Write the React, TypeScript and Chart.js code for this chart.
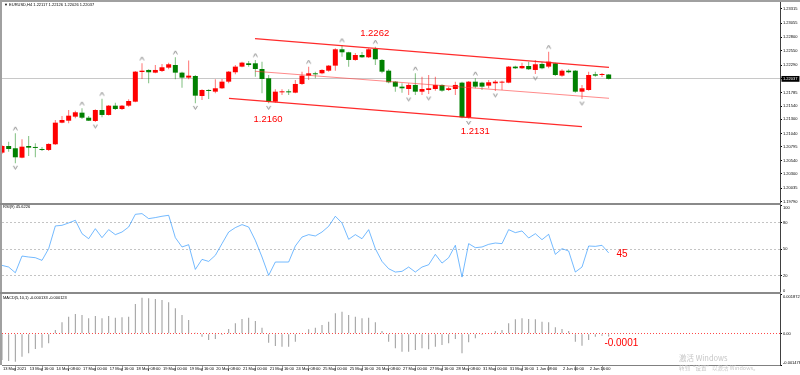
import React, { useEffect, useRef } from 'react';
import { Chart, registerables } from 'chart.js';

Chart.register(...registerables);

const FONT = "'Liberation Sans', Arial, sans-serif";

// ---- H4 EURUSD bars (13 May 2021 00:00 ... 3 Jun 2021 04:00) ----
const OPEN = [
  1.20688, 1.20810, 1.20768, 1.20596, 1.20810, 1.20786, 1.20755, 1.20737, 1.20841, 1.21236,
  1.21272, 1.21346, 1.21419, 1.21327, 1.21267, 1.21468, 1.21377, 1.21547, 1.21486, 1.21547,
  1.21620, 1.22163, 1.22200, 1.22151, 1.22182, 1.22242, 1.22291, 1.22151, 1.22060, 1.22090,
  1.21724, 1.21834, 1.21803, 1.21865, 1.21986, 1.22158, 1.22261, 1.22322, 1.22322, 1.22218,
  1.22048, 1.21620, 1.21791, 1.21803, 1.21785, 1.21944, 1.22096, 1.22139, 1.22139, 1.22187,
  1.22279, 1.22578, 1.22523, 1.22383, 1.22474, 1.22432, 1.22584, 1.22383, 1.22187, 1.21986,
  1.21895, 1.21852, 1.21926, 1.21803, 1.21834, 1.21852, 1.21926, 1.21834, 1.21852, 1.21968,
  1.21334, 1.21986, 1.21968, 1.21913, 1.21956, 1.21968, 1.21968, 1.22261, 1.22231, 1.22273,
  1.22200, 1.22310, 1.22261, 1.22322, 1.22096, 1.22187, 1.22187, 1.21803, 1.21834, 1.22121,
  1.22108, 1.22117,
];
const HIGH = [
  1.20829, 1.20888, 1.21042, 1.20932, 1.20993, 1.20859, 1.20792, 1.20859, 1.21285, 1.21358,
  1.21468, 1.21456, 1.21499, 1.21358, 1.21481, 1.21675, 1.21560, 1.21602, 1.21560, 1.21664,
  1.22182, 1.22322, 1.22213, 1.22291, 1.22310, 1.22334, 1.22432, 1.22169, 1.22371, 1.22108,
  1.21847, 1.21847, 1.22029, 1.22035, 1.22182, 1.22291, 1.22352, 1.22364, 1.22383, 1.22352,
  1.22108, 1.21847, 1.21847, 1.21847, 1.22017, 1.22169, 1.22261, 1.22169, 1.22213, 1.22291,
  1.22596, 1.22657, 1.22534, 1.22511, 1.22529, 1.22596, 1.22626, 1.22401, 1.22213, 1.21999,
  1.21956, 1.21956, 1.22139, 1.22078, 1.22108, 1.22078, 1.21938, 1.21895, 1.21986, 1.21986,
  1.21999, 1.22048, 1.21986, 1.22017, 1.22017, 1.22005, 1.22273, 1.22279, 1.22334, 1.22352,
  1.22383, 1.22352, 1.22534, 1.22334, 1.22213, 1.22213, 1.22200, 1.21926, 1.22169, 1.22169,
  1.22145, 1.22126,
];
const LOW = [
  1.20664, 1.20706, 1.20494, 1.20585, 1.20627, 1.20603, 1.20719, 1.20719, 1.20829, 1.21224,
  1.21224, 1.21316, 1.21303, 1.21267, 1.21248, 1.21334, 1.21367, 1.21468, 1.21468, 1.21529,
  1.21609, 1.22035, 1.21956, 1.22139, 1.22163, 1.22213, 1.22029, 1.21876, 1.22029, 1.21590,
  1.21651, 1.21669, 1.21774, 1.21852, 1.21956, 1.22121, 1.22249, 1.22261, 1.22078, 1.21774,
  1.21590, 1.21602, 1.21743, 1.21743, 1.21774, 1.21926, 1.22017, 1.22048, 1.22121, 1.22169,
  1.22187, 1.22443, 1.22261, 1.22370, 1.22419, 1.22419, 1.22291, 1.22139, 1.21956, 1.21803,
  1.21785, 1.21743, 1.21743, 1.21743, 1.21761, 1.21822, 1.21803, 1.21816, 1.21743, 1.21316,
  1.21313, 1.21865, 1.21834, 1.21865, 1.21816, 1.21834, 1.21956, 1.22218, 1.22218, 1.22200,
  1.22127, 1.22213, 1.22231, 1.22090, 1.22078, 1.22139, 1.21785, 1.21669, 1.21822, 1.22078,
  1.22072, 1.22026,
];
const CLOSE = [
  1.20810, 1.20755, 1.20603, 1.20797, 1.20779, 1.20774, 1.20737, 1.20847, 1.21236, 1.21285,
  1.21364, 1.21426, 1.21327, 1.21272, 1.21468, 1.21377, 1.21547, 1.21486, 1.21547, 1.21633,
  1.22169, 1.22187, 1.22158, 1.22200, 1.22249, 1.22304, 1.22151, 1.22060, 1.22096, 1.21730,
  1.21834, 1.21816, 1.21865, 1.21986, 1.22169, 1.22261, 1.22334, 1.22291, 1.22218, 1.22035,
  1.21620, 1.21803, 1.21803, 1.21791, 1.21944, 1.22096, 1.22139, 1.22121, 1.22200, 1.22279,
  1.22578, 1.22523, 1.22383, 1.22474, 1.22432, 1.22578, 1.22395, 1.22169, 1.21975, 1.21895,
  1.21865, 1.21926, 1.21803, 1.21852, 1.21865, 1.21926, 1.21822, 1.21865, 1.21926, 1.21334,
  1.21986, 1.21895, 1.21895, 1.21975, 1.21986, 1.21986, 1.22261, 1.22231, 1.22273, 1.22213,
  1.22304, 1.22231, 1.22352, 1.22108, 1.22187, 1.22158, 1.21803, 1.21865, 1.22108, 1.22096,
  1.22121, 1.22037,
];

const RSI = [
  31.4, 29.5, 23.0, 42.0, 40.9, 40.1, 37.1, 50.4, 76.2, 76.9,
  79.6, 82.6, 67.4, 61.7, 73.1, 62.9, 72.0, 66.3, 69.3, 75.0,
  89.4, 90.2, 84.5, 85.7, 87.2, 88.3, 62.9, 52.3, 54.9, 26.8,
  38.2, 35.9, 42.8, 56.1, 69.3, 74.3, 77.7, 75.0, 59.8, 40.9,
  20.0, 35.2, 35.2, 35.2, 53.4, 63.6, 66.3, 64.8, 69.3, 75.8,
  87.2, 79.6, 61.0, 66.3, 61.7, 72.0, 50.4, 35.9, 27.6, 23.8,
  24.6, 29.5, 23.8, 29.5, 32.1, 43.9, 34.0, 40.1, 54.2, 18.1,
  56.1, 51.5, 52.3, 55.3, 56.8, 56.1, 72.0, 68.6, 70.5, 62.5,
  67.4, 60.6, 66.7, 43.9, 50.4, 47.7, 23.8, 29.5, 53.4, 53.0,
  54.2, 45.6,
];

const MACD = [
  -0.001242, -0.001289, -0.001320, -0.001085, -0.000927, -0.000723, -0.000660, -0.000456, 0.000173, 0.000534,
  0.000802, 0.000927, 0.000880, 0.000723, 0.000833, 0.000723, 0.000833, 0.000755, 0.000770, 0.000802,
  0.001399, 0.001698, 0.001666, 0.001635, 0.001588, 0.001478, 0.001195, 0.000880, 0.000645, 0.000047,
  -0.000141, -0.000299, -0.000252, -0.000063, 0.000220, 0.000487, 0.000692, 0.000755, 0.000597, 0.000283,
  -0.000424, -0.000582, -0.000613, -0.000613, -0.000377, -0.000031, 0.000204, 0.000283, 0.000409, 0.000566,
  0.000959, 0.001038, 0.000880, 0.000802, 0.000723, 0.000755, 0.000534, 0.000126, -0.000377, -0.000692,
  -0.000849, -0.000849, -0.000770, -0.000692, -0.000739, -0.000613, -0.000534, -0.000456, -0.000252, -0.000927,
  -0.000409, -0.000220, -0.000063, -0.000031, 0.000126, 0.000173, 0.000487, 0.000676, 0.000723, 0.000692,
  0.000676, 0.000566, 0.000534, 0.000299, 0.000220, 0.000126, -0.000377, -0.000566, -0.000299, -0.000141,
  -0.000094, -0.000133,
];

const FRACTAL_UP = [2, 12, 15, 21, 26, 38, 46, 51, 56, 62, 71, 82];
const FRACTAL_DOWN = [2, 14, 29, 40, 61, 64, 70, 74, 80, 87];

const CHANNEL_UPPER_X = [37.95, 91.05];
const CHANNEL_UPPER_Y = [1.22774, 1.22247];
const CHANNEL_MID_X = [37.95, 91.05];
const CHANNEL_MID_Y = [1.22176, 1.21682];
const CHANNEL_LOW_X = [34.05, 87.0];
const CHANNEL_LOW_Y = [1.21682, 1.21163];

const PRICE_NOTES = ['1.2262', '1.2160', '1.2131'];
const PRICE_NOTE_X = [55.9, 39.9, 71.0];
const PRICE_NOTE_Y = [1.22876, 1.21304, 1.2108];
const RSI_NOTES = ['45'];
const RSI_NOTE_X = [93.0];
const RSI_NOTE_Y = [44.5];
const MACD_NOTES = ['-0.0001'];
const MACD_NOTE_X = [92.9];
const MACD_NOTE_Y = [-0.000439];

const PRICE_MIN = 1.19767;
const PRICE_MAX = 1.23443;
const PRICE_TICKS = [1.23315, 1.23055, 1.228, 1.2255, 1.2229, 1.22037, 1.21785, 1.2154, 1.213, 1.2104, 1.20795, 1.2054, 1.203, 1.20035, 1.1979];
const PRICE_TICK_LABELS = ['1.23315', '1.23055', '1.22800', '1.22550', '1.22290', '1.22037', '1.21785', '1.21540', '1.21300', '1.21040', '1.20795', '1.20540', '1.20300', '1.20035', '1.19790'];

const RSI_TICKS = [100, 80, 50, 20, 0];
const RSI_TICK_LABELS = ['100', '80', '50', '20', '0'];
const RSI_LEVELS = [80, 50, 20];

const MACD_MIN = -0.001478;
const MACD_MAX = 0.001872;
const MACD_TICKS = [0.001872, 0, -0.001478];
const MACD_TICK_LABELS = ['0.001872', '0.00', '-0.001478'];

const TIME_LABELS = ['13 May 2021', '13 May 16:00', '14 May 08:00', '17 May 00:00', '17 May 16:00', '18 May 08:00', '19 May 00:00', '19 May 16:00', '20 May 08:00', '21 May 00:00', '21 May 16:00', '24 May 08:00', '25 May 00:00', '25 May 16:00', '26 May 08:00', '27 May 00:00', '27 May 16:00', '28 May 08:00', '31 May 00:00', '31 May 16:00', '1 Jun 08:00', '2 Jun 00:00', '2 Jun 16:00'];
const TIME_LABEL_BARS = [0, 4, 8, 12, 16, 20, 24, 28, 32, 36, 40, 44, 48, 52, 56, 60, 64, 68, 72, 76, 80, 84, 88];

const X_MIN = 0;
const X_MAX = 116.7;

const UP_BODY = '#ff0000';
const DOWN_BODY = '#008000';
const UP_WICK = 'rgba(255,0,0,0.55)';
const DOWN_WICK = 'rgba(0,128,0,0.5)';

function notesPlugin(id: string, texts: string[], xs: number[], ys: number[], size: number) {
  return {
    id,
    afterDatasetsDraw(chart: any) {
      const { ctx, scales } = chart;
      ctx.save();
      ctx.font = `${size}px ${FONT}`;
      ctx.fillStyle = '#ff0000';
      ctx.textAlign = 'center';
      ctx.textBaseline = 'middle';
      texts.forEach((t, i) => {
        ctx.fillText(t, scales.x.getPixelForValue(xs[i]), scales.y.getPixelForValue(ys[i]));
      });
      ctx.restore();
    },
  };
}

function rightAxis(min: number, max: number, ticks: number[], labels: (string | string[])[], extra: any = {}) {
  return {
    position: 'right',
    min,
    max,
    afterBuildTicks: (s: any) => {
      s.ticks = ticks.map((v) => ({ value: v }));
    },
    afterFit: (s: any) => {
      s.width = 20;
      s.paddingTop = 0;
      s.paddingBottom = 0;
    },
    ticks: {
      autoSkip: false,
      padding: 1,
      font: { size: 4, family: FONT },
      color: '#000',
      callback: (_v: any, i: number) => labels[i],
      ...(extra.ticks || {}),
    },
    grid: {
      drawTicks: true,
      tickLength: 2,
      tickColor: '#000',
      color: 'rgba(0,0,0,0)',
      ...(extra.grid || {}),
    },
    border: { display: true, color: '#404040', width: 1, ...(extra.border || {}) },
  };
}

function hiddenX() {
  return { type: 'linear', min: X_MIN, max: X_MAX, offset: false, display: false, grid: { display: false } };
}

function makeArrow(up: boolean) {
  const c = document.createElement('canvas');
  c.width = 7;
  c.height = 21;
  const g = c.getContext('2d') as CanvasRenderingContext2D;
  g.strokeStyle = '#8c8c8c';
  g.lineWidth = 1;
  g.beginPath();
  if (up) {
    g.moveTo(1.5, 7.5);
    g.lineTo(3.5, 4.0);
    g.lineTo(5.5, 7.5);
  } else {
    g.moveTo(1.5, 13.0);
    g.lineTo(3.5, 16.5);
    g.lineTo(5.5, 13.0);
  }
  g.stroke();
  return c;
}

const base = {
  responsive: false,
  animation: false,
  events: [],
  plugins: { legend: { display: false }, tooltip: { enabled: false } },
};

export default function App() {
  const priceRef = useRef<HTMLCanvasElement>(null);
  const rsiRef = useRef<HTMLCanvasElement>(null);
  const macdRef = useRef<HTMLCanvasElement>(null);

  useEffect(() => {
    Chart.defaults.font.family = FONT;
    const charts: Chart[] = [];
    const lastClose = CLOSE[CLOSE.length - 1];
    const isUp = OPEN.map((o, i) => CLOSE[i] >= o);
    const upArrow = makeArrow(true);
    const downArrow = makeArrow(false);

    if (priceRef.current) {
      charts.push(
        new Chart(priceRef.current, {
          type: 'bar',
          data: {
            datasets: [
              {
                type: 'bar',
                data: HIGH.map((h, i) => ({ x: i, y: [LOW[i], h] })) as any,
                backgroundColor: isUp.map((u) => (u ? UP_WICK : DOWN_WICK)),
                maxBarThickness: 1,
                barPercentage: 1,
                categoryPercentage: 0.8,
                grouped: false,
                order: 5,
              },
              {
                type: 'bar',
                data: OPEN.map((o, i) => ({ x: i, y: [o, CLOSE[i]] })) as any,
                backgroundColor: isUp.map((u) => (u ? UP_BODY : DOWN_BODY)),
                maxBarThickness: 5,
                barPercentage: 1,
                categoryPercentage: 0.8,
                minBarLength: 1,
                grouped: false,
                order: 4,
              },
              {
                type: 'line',
                data: CHANNEL_UPPER_X.map((x, i) => ({ x, y: CHANNEL_UPPER_Y[i] })),
                borderColor: 'rgba(255,20,20,0.9)',
                borderWidth: 1.2,
                pointRadius: 0,
                order: 2,
              },
              {
                type: 'line',
                data: CHANNEL_MID_X.map((x, i) => ({ x, y: CHANNEL_MID_Y[i] })),
                borderColor: 'rgba(255,60,60,0.6)',
                borderWidth: 1,
                pointRadius: 0,
                order: 2,
              },
              {
                type: 'line',
                data: CHANNEL_LOW_X.map((x, i) => ({ x, y: CHANNEL_LOW_Y[i] })),
                borderColor: 'rgba(255,20,20,0.9)',
                borderWidth: 1.2,
                pointRadius: 0,
                order: 2,
              },
              {
                type: 'line',
                data: FRACTAL_UP.map((i) => ({ x: i, y: HIGH[i] })),
                showLine: false,
                pointStyle: upArrow as any,
                pointRadius: 3,
                order: 1,
              },
              {
                type: 'line',
                data: FRACTAL_DOWN.map((i) => ({ x: i, y: LOW[i] })),
                showLine: false,
                pointStyle: downArrow as any,
                pointRadius: 3,
                order: 1,
              },
            ],
          },
          options: {
            ...base,
            layout: { padding: { left: 2, top: 2, right: 0, bottom: 0 }, autoPadding: false },
            scales: {
              x: hiddenX(),
              y: rightAxis(PRICE_MIN, PRICE_MAX, PRICE_TICKS, PRICE_TICK_LABELS, {
                ticks: {
                  color: (c: any) => (c.tick && c.tick.value === lastClose ? '#fff' : '#000'),
                  showLabelBackdrop: (c: any) => !!(c.tick && c.tick.value === lastClose),
                  backdropColor: '#000',
                  backdropPadding: { top: 0.5, bottom: 0.5, left: 1.5, right: 2 },
                },
                grid: {
                  color: (c: any) => (c.tick && c.tick.value === lastClose ? '#c8c8c8' : 'rgba(0,0,0,0)'),
                },
              }),
            },
          } as any,
          plugins: [notesPlugin('priceNotes', PRICE_NOTES, PRICE_NOTE_X, PRICE_NOTE_Y, 9.5)],
        })
      );
    }

    if (rsiRef.current) {
      const rsiLabels = RSI_TICK_LABELS.map((l, i) => (i === 0 ? ['', l] : i === RSI_TICK_LABELS.length - 1 ? [l, ''] : l));
      charts.push(
        new Chart(rsiRef.current, {
          type: 'line',
          data: {
            datasets: [
              {
                data: RSI.map((v, i) => ({ x: i, y: v })),
                borderColor: 'rgba(30,144,255,0.62)',
                borderWidth: 1,
                pointRadius: 0,
                tension: 0,
              },
            ],
          },
          options: {
            ...base,
            layout: { padding: { left: 2, top: 0, right: 0, bottom: 0 }, autoPadding: false },
            scales: {
              x: hiddenX(),
              y: rightAxis(0, 100, RSI_TICKS, rsiLabels, {
                grid: {
                  color: (c: any) => (c.tick && RSI_LEVELS.includes(c.tick.value) ? '#c4c4c4' : 'rgba(0,0,0,0)'),
                },
                border: { dash: [2, 2] },
              }),
            },
          } as any,
          plugins: [notesPlugin('rsiNotes', RSI_NOTES, RSI_NOTE_X, RSI_NOTE_Y, 10)],
        })
      );
    }

    if (macdRef.current) {
      const macdLabels = MACD_TICK_LABELS.map((l, i) => (i === 0 ? ['', l] : i === MACD_TICK_LABELS.length - 1 ? [l, ''] : l));
      charts.push(
        new Chart(macdRef.current, {
          type: 'bar',
          data: {
            datasets: [
              {
                data: MACD.map((v, i) => ({ x: i, y: v })),
                backgroundColor: '#9a9a9a',
                maxBarThickness: 1,
              },
            ],
          },
          options: {
            ...base,
            layout: { padding: { left: 2, top: 0, right: 0, bottom: 0 }, autoPadding: false },
            scales: {
              x: {
                type: 'linear',
                min: X_MIN,
                max: X_MAX,
                offset: false,
                position: 'bottom',
                afterBuildTicks: (s: any) => {
                  s.ticks = TIME_LABEL_BARS.map((v) => ({ value: v }));
                },
                afterFit: (s: any) => {
                  s.height = 10;
                  s.paddingLeft = 0;
                  s.paddingRight = 0;
                },
                ticks: {
                  autoSkip: false,
                  maxRotation: 0,
                  minRotation: 0,
                  align: 'start',
                  padding: -5,
                  labelOffset: 1,
                  font: { size: 4, family: FONT },
                  color: '#000',
                  callback: (_v: any, i: number) => TIME_LABELS[i],
                },
                grid: {
                  display: true,
                  drawOnChartArea: false,
                  drawTicks: true,
                  tickLength: 6,
                  tickColor: '#9a9a9a',
                },
                border: { display: true, color: '#808080', width: 1 },
              },
              y: rightAxis(MACD_MIN, MACD_MAX, MACD_TICKS, macdLabels, {
                grid: {
                  color: (c: any) => (c.tick && c.tick.value === 0 ? 'rgba(255,40,40,0.85)' : 'rgba(0,0,0,0)'),
                },
                border: { dash: [1, 2] },
              }),
            },
          } as any,
          plugins: [notesPlugin('macdNotes', MACD_NOTES, MACD_NOTE_X, MACD_NOTE_Y, 10)],
        })
      );
    }

    return () => charts.forEach((c) => c.destroy());
  }, []);

  const small = (text: string, left: number, top: number, color = '#000') => (
    <div
      style={{
        position: 'absolute',
        left,
        top,
        fontFamily: FONT,
        fontSize: 8,
        lineHeight: '8px',
        color,
        whiteSpace: 'nowrap',
        transform: 'scale(0.5)',
        transformOrigin: '0 0',
      }}
    >
      {text}
    </div>
  );

  return (
    <div style={{ position: 'fixed', left: 0, top: 0, width: 800, height: 375, background: '#fff', overflow: 'hidden' }}>
      <canvas ref={priceRef} width={800} height={203} style={{ position: 'absolute', left: 0, top: 0, width: 800, height: 203 }} />
      <canvas ref={rsiRef} width={800} height={88} style={{ position: 'absolute', left: 0, top: 205, width: 800, height: 88 }} />
      <canvas ref={macdRef} width={800} height={81} style={{ position: 'absolute', left: 0, top: 294, width: 800, height: 81 }} />

      <div style={{ position: 'absolute', left: 0, top: 0, width: 800, height: 2, background: '#a0a0a0' }} />
      <div style={{ position: 'absolute', left: 0, top: 0, width: 2, height: 365, background: '#a0a0a0' }} />
      <div style={{ position: 'absolute', left: 0, top: 203, width: 781, height: 2, background: '#8a8a8a' }} />
      <div style={{ position: 'absolute', left: 0, top: 292, width: 781, height: 2, background: '#8a8a8a' }} />

      {small('\u25BC EURUSD,H4  1.22117 1.22126 1.22026 1.22037', 4, 3)}
      {small('RSI(9) 45.6226', 3, 205)}
      {small('MACD(5,10,1) -0.000133 -0.000123', 3, 295.5)}

      <div
        style={{
          position: 'absolute',
          left: 679,
          top: 354,
          fontFamily: "'Noto Sans CJK SC', sans-serif",
          fontSize: 7.5,
          lineHeight: '8px',
          color: '#c6c6c6',
          whiteSpace: 'nowrap',
        }}
      >
        激活 Windows
      </div>
      <div
        style={{
          position: 'absolute',
          left: 679,
          top: 365,
          fontFamily: "'Noto Sans CJK SC', sans-serif",
          fontSize: 10,
          lineHeight: '10px',
          color: '#c6c6c6',
          whiteSpace: 'nowrap',
          transform: 'scale(0.55)',
          transformOrigin: '0 0',
        }}
      >
        转到“设置”以激活 Windows。
      </div>
    </div>
  );
}
